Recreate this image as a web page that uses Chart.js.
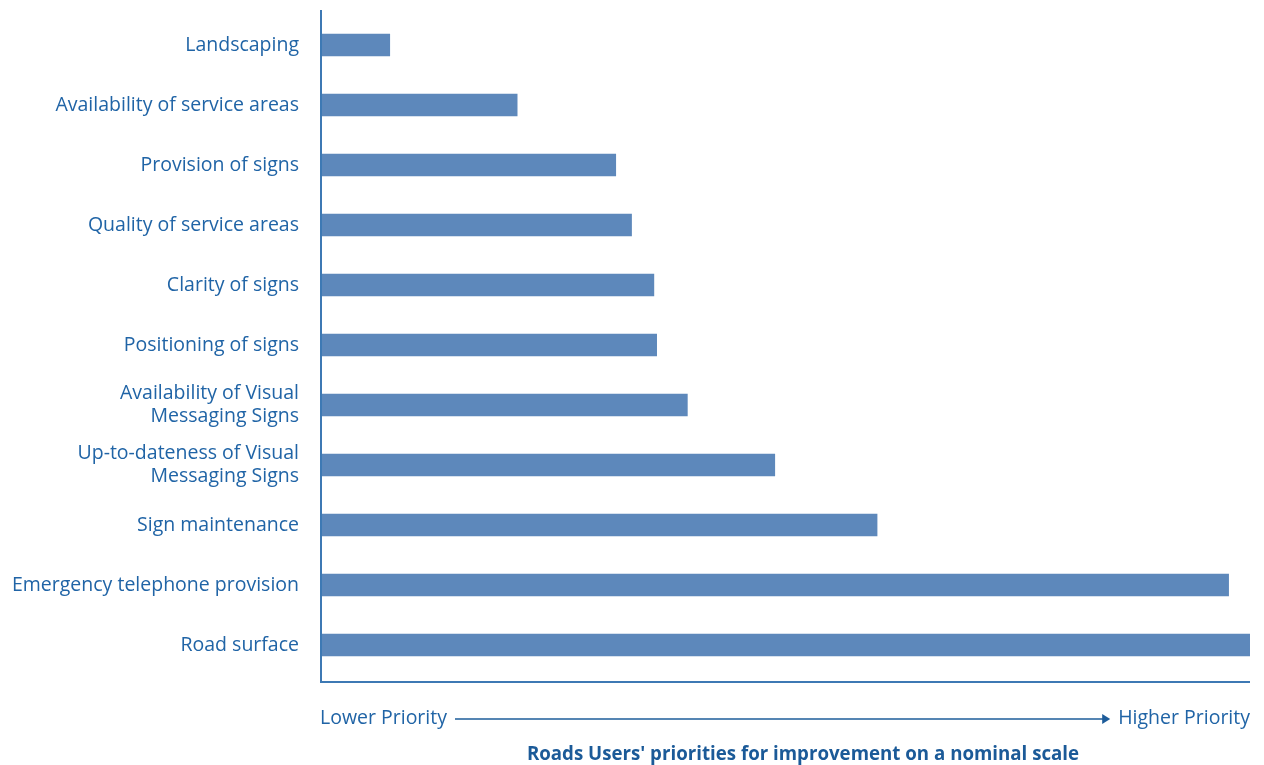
<!DOCTYPE html>
<html lang="en">
<head>
  <meta charset="UTF-8">
  <title>Roads Users' priorities</title>
  <script src="https://cdn.jsdelivr.net/npm/chart.js"></script>
  <style>
    html, body { margin: 0; padding: 0; background: #ffffff; }
    .chart-container { position: relative; width: 1264px; height: 765px; }
  </style>
</head>
<body>
  <div class="chart-container">
    <canvas id="priorities"></canvas>
  </div>

  <script>
    // categories, top to bottom
    const categories = [
      'Landscaping',
      'Availability of service areas',
      'Provision of signs',
      'Quality of service areas',
      'Clarity of signs',
      'Positioning of signs',
      ['Availability of Visual', 'Messaging Signs'],
      ['Up-to-dateness of Visual', 'Messaging Signs'],
      'Sign maintenance',
      'Emergency telephone provision',
      'Road surface'
    ];
    // nominal priority score (0 = lowest, 100 = highest)
    const priorityScores = [7.5, 21.2, 31.8, 33.5, 35.9, 36.2, 39.5, 48.9, 59.9, 97.7, 100];
    const lowLabel = 'Lower Priority';
    const highLabel = 'Higher Priority';
    const chartTitle = "Roads Users' priorities for improvement on a nominal scale";

    const FONT = "'Open Sans', sans-serif";
    const TEXT_BLUE = '#2064a6';
    const AXIS_BLUE = '#3d79b4';
    const DARK_BLUE = '#1b5a98';

    // draws the L-shaped axis lines, the low/high priority arrow and the caption
    const axesAndArrow = {
      id: 'axesAndArrow',
      afterDraw(chart) {
        const { ctx, chartArea } = chart;
        const { left, right, top, bottom } = chartArea;
        ctx.save();
        ctx.strokeStyle = AXIS_BLUE;
        ctx.lineWidth = 2;
        ctx.beginPath();
        ctx.moveTo(left + 1, top - 5);
        ctx.lineTo(left + 1, bottom + 7);
        ctx.lineTo(right, bottom + 7);
        ctx.stroke();

        const y = bottom + 43;
        ctx.font = '19.5px ' + FONT;
        ctx.fillStyle = TEXT_BLUE;
        ctx.textBaseline = 'middle';
        ctx.textAlign = 'left';
        ctx.fillText(lowLabel, left, y);
        ctx.textAlign = 'right';
        ctx.fillText(highLabel, right, y);

        const x0 = left + ctx.measureText(lowLabel).width + 8;
        const x1 = right - ctx.measureText(highLabel).width - 8;
        ctx.strokeStyle = '#1d5c9a';
        ctx.lineWidth = 1.5;
        ctx.beginPath();
        ctx.moveTo(x0, y + 1);
        ctx.lineTo(x1 - 6, y + 1);
        ctx.stroke();
        ctx.fillStyle = '#1d5c9a';
        ctx.beginPath();
        ctx.moveTo(x1, y + 1);
        ctx.lineTo(x1 - 8, y - 4);
        ctx.lineTo(x1 - 8, y + 6);
        ctx.closePath();
        ctx.fill();

        ctx.font = 'bold 18.7px ' + FONT;
        ctx.fillStyle = DARK_BLUE;
        ctx.textAlign = 'center';
        ctx.fillText(chartTitle, (left + right) / 2 + 18, bottom + 80);
        ctx.restore();
      }
    };

    new Chart(document.getElementById('priorities'), {
      type: 'bar',
      data: {
        labels: categories,
        datasets: [{
          data: priorityScores,
          backgroundColor: '#5d88bb',
          barThickness: 22,
          borderWidth: 0
        }]
      },
      options: {
        indexAxis: 'y',
        responsive: true,
        maintainAspectRatio: false,
        animation: false,
        layout: { padding: { top: 15, right: 14, left: 0, bottom: 90 } },
        scales: {
          x: {
            display: false,
            min: 0,
            max: 100
          },
          y: {
            grid: { display: false, drawTicks: false },
            border: { display: false },
            afterFit(scale) {
              scale.width = 320;
              scale.paddingTop = 0;
              scale.paddingBottom = 0;
            },
            ticks: {
              padding: 21,
              color: TEXT_BLUE,
              font: { family: FONT, size: 19.5, lineHeight: 1.18 }
            }
          }
        },
        plugins: {
          legend: { display: false },
          tooltip: { enabled: false },
          title: { display: false }
        }
      },
      plugins: [axesAndArrow]
    });
  </script>
</body>
</html>
